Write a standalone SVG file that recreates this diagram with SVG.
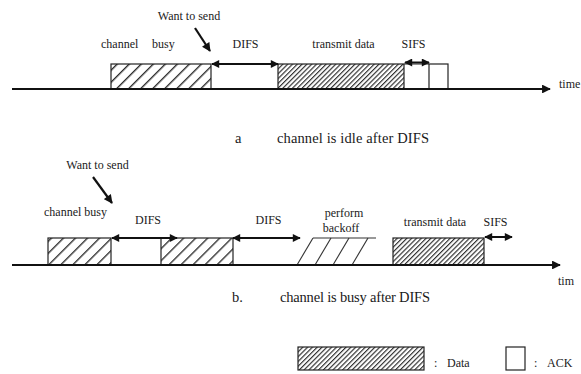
<svg xmlns="http://www.w3.org/2000/svg" width="581" height="374" viewBox="0 0 581 374">
<style>
text{font-family:'Liberation Serif','Times New Roman','DejaVu Serif',serif;fill:#1a1a1a;font-size:12px}
.cap{font-size:14.5px}
.box{stroke:#222;stroke-width:1.2}
.axis{stroke:#111;stroke-width:2.2;fill:none}
.dbl{stroke:#111;stroke-width:2;fill:none;marker-start:url(#ah);marker-end:url(#ah)}
.ptr{stroke:#111;stroke-width:2.2;fill:none;marker-end:url(#ah)}
.bk{stroke:#333;stroke-width:1.1;fill:none}
</style>
<defs>
<pattern id="sparse" patternUnits="userSpaceOnUse" width="8.5" height="8.5" patternTransform="rotate(45)">
<rect width="8.5" height="8.5" fill="#fff"/>
<line x1="0.7" y1="0" x2="0.7" y2="8.5" stroke="#222" stroke-width="1.3"/>
</pattern>
<pattern id="dense" patternUnits="userSpaceOnUse" width="3.4" height="3.4" patternTransform="rotate(45)">
<rect width="3.4" height="3.4" fill="#fff"/>
<line x1="0.6" y1="0" x2="0.6" y2="3.4" stroke="#222" stroke-width="1.1"/>
</pattern>
<marker id="ah" viewBox="0 0 10 10" refX="9" refY="5" markerWidth="4.5" markerHeight="4" markerUnits="strokeWidth" orient="auto-start-reverse">
<path d="M0,0 L10,5 L0,10 z" fill="#111"/>
</marker>
<marker id="axh" viewBox="0 0 10 10" refX="9" refY="5" markerWidth="5" markerHeight="4" markerUnits="strokeWidth" orient="auto">
<path d="M0,0 L10,5 L0,10 z" fill="#111"/>
</marker>
</defs>

<!-- Part a -->
<g id="a-busy">
<rect class="box" x="111" y="64" width="100" height="25" fill="url(#sparse)"/>
<text x="101" y="48">channel</text>
<text x="152" y="48">busy</text>
</g>
<g id="a-want">
<text x="189" y="20" text-anchor="middle">Want to send</text>
</g>
<g id="a-difs">
<text x="245.5" y="48" text-anchor="middle">DIFS</text>
</g>
<g id="a-data">
<rect class="box" x="278" y="64" width="126" height="25" fill="url(#dense)"/>
<text x="343.5" y="48" text-anchor="middle">transmit data</text>
</g>
<g id="a-sifs">
<line class="bk" x1="404" y1="64" x2="429" y2="64"/>
<text x="413.5" y="48" text-anchor="middle">SIFS</text>
</g>
<g id="a-ack">
<rect class="box" x="429" y="64" width="19" height="25" fill="#fff"/>
</g>
<g id="a-time">
<text x="559" y="88">time</text>
</g>
<g id="a-caption">
<text class="cap" x="235" y="143">a</text>
<text class="cap" x="277" y="143" textLength="152">channel is idle after DIFS</text>
</g>

<!-- Part b -->
<g id="b-busy1">
<rect class="box" x="48" y="238" width="63" height="27" fill="url(#sparse)"/>
<text x="44" y="216">channel busy</text>
</g>
<g id="b-want">
<text x="97.5" y="169" text-anchor="middle">Want to send</text>
</g>
<g id="b-difs1">
<text x="148" y="224" text-anchor="middle">DIFS</text>
</g>
<g id="b-busy2">
<rect class="box" x="161" y="238" width="72" height="27" fill="url(#sparse)"/>
</g>
<g id="b-difs2">
<text x="268.5" y="224" text-anchor="middle">DIFS</text>
</g>
<g id="b-backoff">
<line class="bk" x1="313" y1="238" x2="376" y2="238"/>
<line class="bk" x1="297" y1="265" x2="313" y2="238"/>
<line class="bk" x1="315" y1="265" x2="331" y2="238"/>
<line class="bk" x1="333" y1="265" x2="349" y2="238"/>
<line class="bk" x1="352" y1="265" x2="368" y2="238"/>
<text x="344" y="217" text-anchor="middle">perform</text>
<text x="341" y="232" text-anchor="middle">backoff</text>
</g>
<g id="b-data">
<rect class="box" x="393" y="238" width="91" height="27" fill="url(#dense)"/>
<text x="435" y="226" text-anchor="middle">transmit data</text>
</g>
<g id="b-sifs">
<text x="495.5" y="226" text-anchor="middle">SIFS</text>
</g>
<g id="b-time">
<text x="558" y="285">tim</text>
</g>
<g id="b-caption">
<text class="cap" x="232" y="302">b.</text>
<text class="cap" x="280" y="302" textLength="150">channel is busy after DIFS</text>
</g>

<!-- Legend -->
<g id="legend-data">
<rect class="box" x="298" y="347" width="126" height="23" fill="url(#dense)"/>
<text x="434" y="367">:</text>
<text x="447" y="367" font-size="11">Data</text>
</g>
<g id="legend-ack">
<rect class="box" x="506" y="347" width="19" height="23" fill="#fff"/>
<text x="534" y="367">:</text>
<text x="547" y="367" font-size="11">ACK</text>
</g>

<!-- Connectors -->
<g id="connectors">
<line class="axis" x1="12" y1="89" x2="550" y2="89" marker-end="url(#axh)"/>
<line class="dbl" x1="212" y1="64" x2="278" y2="64"/>
<line class="dbl" x1="405" y1="62.5" x2="429" y2="62.5"/>
<line class="ptr" x1="195" y1="28" x2="210" y2="51"/>
<line class="axis" x1="12" y1="265" x2="560" y2="265" marker-end="url(#axh)"/>
<line class="ptr" x1="93" y1="177" x2="112" y2="203"/>
<line class="dbl" x1="112" y1="238" x2="177" y2="238"/>
<line class="dbl" x1="233" y1="238" x2="300" y2="238"/>
<line class="dbl" x1="485" y1="237" x2="512" y2="237"/>
</g>
</svg>
